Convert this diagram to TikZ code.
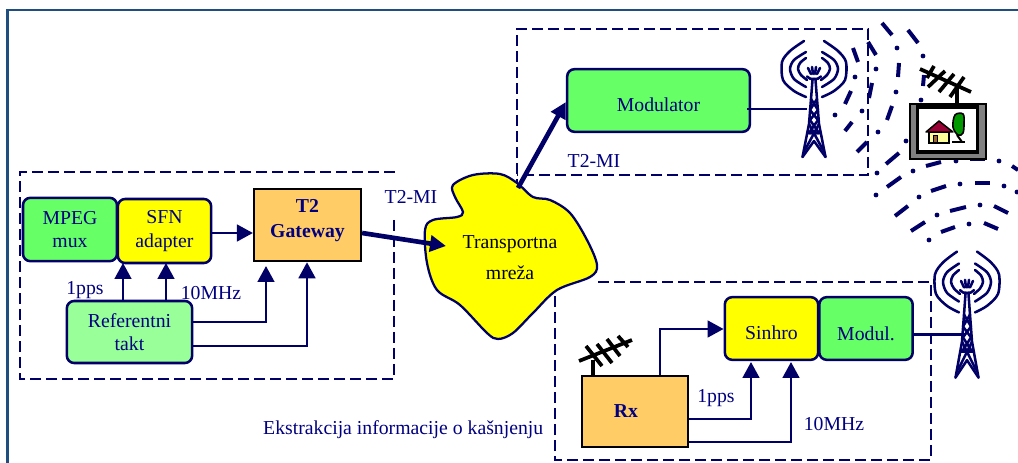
\documentclass[tikz,border=0pt]{standalone}
\usepackage{fontspec}
\setmainfont{Liberation Serif}
\usetikzlibrary{arrows.meta,calc}
\definecolor{navy}{HTML}{000066}
\definecolor{txtblue}{HTML}{000080}
\definecolor{framec}{HTML}{1F4E80}
\definecolor{gr}{HTML}{66FF66}
\definecolor{lgr}{HTML}{99FF99}
\definecolor{orng}{HTML}{FFCC66}
\definecolor{ylw}{HTML}{FFFF00}
\definecolor{treeg}{HTML}{009900}
\definecolor{roofc}{HTML}{990033}
\definecolor{wallc}{HTML}{FFFF99}
\definecolor{doorc}{HTML}{996633}
\definecolor{tvgray}{HTML}{808080}
\tikzset{
  every node/.style={font=\fontsize{14.8}{17.5}\selectfont,text=txtblue},
  dbox/.style={draw=navy,line width=2.1pt,dash pattern=on 7.9pt off 4.1pt},
  rbox/.style={draw=navy,line width=1.9pt,rounded corners=5.5pt,inner sep=0pt,align=center},
  sqbox/.style={draw=black,line width=1.9pt,fill=orng,inner sep=0pt,align=center,font=\fontsize{14.8}{17.5}\selectfont\bfseries},
  conn/.style={draw=navy,line width=2pt,-{Triangle[width=12.5pt,length=12pt]}},
  plainl/.style={draw=navy,line width=2.2pt},
  thick arrow/.style={draw=navy,line width=3.5pt,-{Triangle[width=12pt,length=12pt]}},
  wave/.style={draw=navy,line width=3pt},
  ant/.style={draw=black,line width=2.8pt},
  pics/tower/.style={code={
    \foreach \s in {1,-1}{
      \begin{scope}[xscale=\s,draw=navy,line width=1.9pt,line cap=round,line join=round]
        \draw plot[smooth] coordinates {(-10,-28) (-24,-18) (-32,-7) (-31,11) (-20,22) (-8,28)};
        \draw plot[smooth] coordinates {(-8,-17) (-20,-9) (-24,0) (-20,10) (-8,18)};
        \draw plot[smooth] coordinates {(-8,-11) (-14,-6) (-16,0) (-13,6) (-7,11)};
        \draw (-6,-1) -- (-3,5);
        \draw (-2,-2) -- (-1,5);
        \draw (-1.5,11) -- (-3,30) -- (-5,55) -- (-11.5,88);
        \draw (-7,7.5) .. controls (-5,10) and (-3,10) .. (0,10);
        \draw (-3,30) -- (4,41) -- (-4,51) -- (5,64) -- (-6.5,64);
        \draw (-5,55) -- (9,81);
        \draw (-11.5,88) -- (0,72);
      \end{scope}}
  }}
}
\begin{document}
\begin{tikzpicture}[x=.75pt,y=-.75pt]
\useasboundingbox (0,0) rectangle (1018,463);
% outer frame
\coordinate (fA) at (7.5,463);
\coordinate (fB) at (7.5,10);
\coordinate (fC) at (1018,10);
\draw[framec,line width=1.9pt] (fA) -- (fB) -- (fC);

% dashed groups
\draw[dbox] (394,220) -- (394,379) -- (20,379) -- (20,172) -- (396,172);
\draw[dbox] (517,190) -- (517,29) -- (868,29) -- (868,175) -- (517,175);
\draw[dbox] (598,282) -- (931,282) -- (931,460) -- (555,460) -- (555,290);

% radio waves: dashes
\foreach \a/\b in {
 {853,48}/{858,62},{851,91}/{845,104},
 {868,42}/{876,55},{872,83}/{869,98},{852,122}/{845,131},
 {882,23}/{892,35},{899,63}/{898,77},{892,106}/{887,120},{867,142}/{857,152},
 {908,30}/{918,43},{924,75}/{923,86},{899,153}/{886,164},
 {887,187}/{901,177},{926,166}/{941,162},{970,159}/{985,159},{1012,166}/{1018,170},
 {895,216}/{908,206},{931,191}/{946,186},{975,183}/{990,183},
 {911,231}/{925,222},{950,211}/{966,207},{994,206}/{1008,213},
 {941,232}/{955,227},{984,223}/{998,229}}
  {\draw[wave] (\a) -- (\b);}
% radio waves: dots
\foreach \p in {
 {855,77},{835,115},{876,69},{862,111},{897,48},{896,92},{878,132},
 {923,56},{921,100},{906,141},{877,173},
 {876,195},{913,171},{956,161},{999,161},
 {919,197},{960,184},{1004,186},{1017,192},
 {937,215},{980,205},{929,240},{969,224}}
  {\fill[navy] (\p) circle[radius=2.4];}

% cloud
\draw[navy,line width=1.7pt,fill=ylw] plot[smooth cycle,tension=.55] coordinates {
 (453,185) (473,175) (500,174) (517,183) (533,197) (550,200) (570,213) (587,240)
 (597,265) (590,277) (557,290) (533,313) (513,333) (498,339) (487,333) (460,305)
 (437,290) (427,263) (425,230) (433,220) (457,217) (463,212) (455,197)};
\node[text=black!90!blue,align=center] (cloudt) at (510,257.5) {Transportna\\[5.5pt]mreža};

% boxes
\node[rbox,fill=gr,minimum width=70.5pt,minimum height=47.5pt] (mpeg) at (70,229.5) {MPEG\\mux};
\node[rbox,fill=ylw,minimum width=70pt,minimum height=48pt] (sfn) at (164.5,231) {SFN\\adapter};
\node[sqbox,minimum width=80pt,minimum height=54pt,text depth=9.7pt] (gw) at (307.5,225) {T2\\[1pt]Gateway};
\node[rbox,fill=lgr,minimum width=94pt,minimum height=46.5pt] (ref) at (129.5,332) {Referentni\\takt};
\node[rbox,fill=gr,minimum width=137pt,minimum height=47pt,text height=16.8pt,text depth=0pt] (mod) at (658.5,100.5) {Modulator};
\node[rbox,fill=ylw,minimum width=70pt,minimum height=47pt,text height=16pt,text depth=0pt] (sin) at (771.5,328.5) {Sinhro};
\node[rbox,fill=gr,minimum width=70pt,minimum height=47pt,text height=18pt,text depth=0pt] (mdl) at (866,328.5) {Modul.};
\node[sqbox,minimum width=79.5pt,minimum height=53pt] (rx) at (635,411.5) {Rx\hspace*{13.5pt}};

% towers
\pic (towA) at (814,69) {tower};
\pic[yscale=1.086] (towB) at (967,282) {tower};
\coordinate (towAin) at (807,109);
\coordinate (towBin) at (965,334.5);
\draw[plainl] (mod.east |- towAin) ++(-4,0) -- (towAin);
\draw[plainl] (mdl.east |- towBin) ++(-1,0) -- (towBin);

% connectors left group
\draw[conn] (sfn.east |- 0,233) -- (gw.west |- 0,233);
\draw[conn] (ref.north -| 123,0) -- (123,263);
\draw[conn] (ref.north -| 166,0) -- (166,263);
\draw[conn] (ref.east |- 0,322) -| (266,266);
\draw[conn] (ref.east |- 0,346) -| (gw.south -| 307,0);
\node (l1) at (85,290) {1pps};
\node (l2) at (211,293) {10MHz};
\node (l3) at (411,197) {T2-MI};
\node (l4) at (594,161) {T2-MI};

% main links
\coordinate (cloudin) at (446,246);
\coordinate (cloudout) at (518,188);
\draw[thick arrow] (gw.east |- 0,233) -- (cloudin);
\draw[thick arrow] (cloudout) -- (mod.west |- 567,102);

% connectors right group
\draw[conn] (rx.north -| 660,0) |- (sin.west |- 0,329);
\draw[conn] (rx.east |- 0,419) -| (751,362);
\draw[conn] (rx.east |- 0,442) -| (791,362);
\node (l5) at (716,398) {1pps};
\node (l6) at (834,424) {10MHz};
\node[anchor=east,inner sep=0pt] (l7) at (543.5,430) {Ekstrakcija informacije o kašnjenju};

% Rx antenna
\coordinate (ra1) at (579,361);\coordinate (ra2) at (632,340);
\draw[ant] (rx.north -| 593,0) -- (593,360);
\draw[ant] (ra1) -- (ra2);
\draw[ant] (586,346) -- (602,366);
\draw[ant] (597,344) -- (612,363);
\draw[ant] (607,339) -- (620,356);
\draw[ant] (618,336) -- (628,347);

% TV set
\node[draw=black,line width=1.5pt,fill=tvgray,minimum width=57pt,minimum height=41pt,inner sep=0pt] (tv) at (948,131.5) {};
\node[draw=black,line width=2.6pt,fill=white,minimum width=45pt,minimum height=33.5pt,inner sep=0pt] (scr) at (947.5,129.5) {};
\draw[ant] (tv.north -| 957,0) -- (957,87);
\draw[ant] (920,69) -- (971,92);
\draw[ant] (927,78) -- (934,66);
\draw[ant] (928,87) -- (945,71);
\draw[ant] (939,92) -- (954,74);
\draw[ant] (950,97) -- (964,77);
\draw[black,line width=1.1pt,fill=wallc] (929,132) rectangle (949,143);
\draw[black,line width=.7pt,fill=doorc] (933,135) rectangle (937,142.5);
\draw[black,line width=1.1pt,fill=roofc,line join=round] (926,132) -- (939,121) -- (953,132) -- cycle;
\draw[black,line width=1.2pt,fill=treeg] plot[smooth cycle,tension=.6] coordinates {(955,115) (963,114) (964,123) (963,133) (958,135) (953,127)};
\draw[black,line width=1.5pt] (957,135) -- (962,142);
\draw[black,line width=1.5pt] (952,142.5) -- (965,142.5);
\end{tikzpicture}
\end{document}
